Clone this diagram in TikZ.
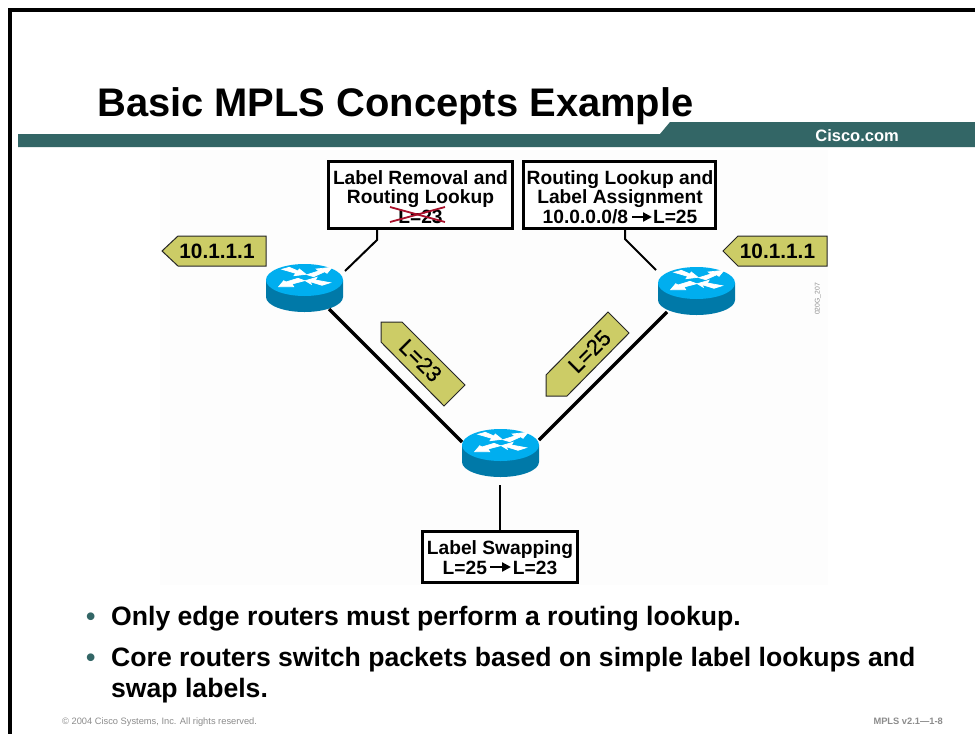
\documentclass[tikz,border=0pt]{standalone}
\usepackage{fontspec}
\setmainfont{Liberation Sans}
\usetikzlibrary{arrows.meta}
\definecolor{band}{HTML}{336666}
\definecolor{tagfill}{HTML}{CCCC66}
\definecolor{rtop}{HTML}{00AEEF}
\definecolor{rside}{HTML}{0079A8}
\definecolor{crossred}{HTML}{A8102A}
\definecolor{footgray}{HTML}{8C8C8C}
\definecolor{faint}{HTML}{FDFDFD}
\tikzset{
  x=1pt,y=-1pt,
  routerbox/.style={minimum width=77pt,minimum height=48pt,inner sep=0pt,outer sep=0pt,
    path picture={
      \begin{scope}[shift={(path picture bounding box.center)}]
        \fill[rside] (-38.5,-8) -- (38.5,-8) -- (38.5,9) arc[start angle=0,end angle=180,x radius=38.5,y radius=15] -- cycle;
        \fill[rtop] (0,-8) ellipse[x radius=38.5,y radius=16];
        \filldraw[white,line width=0.7pt] (-22.5,-18.7) -- (-15.2,-20.7) -- (-6.5,-17) -- (-5.2,-19) -- (1.5,-13.7) -- (-10.5,-12.3) -- (-8.8,-14.7) -- cycle;
        \filldraw[white,line width=0.7pt] (2.5,-13.3) -- (14.2,-17) -- (11.8,-19) -- (27.5,-20.7) -- (22.5,-14.7) -- (20.2,-16.3) -- (9.2,-11.3) -- cycle;
        \filldraw[white,line width=0.7pt] (-6.5,-9.7) -- (0,-7.3) -- (-12.5,-4) -- (-10.8,-1.3) -- (-25.8,-1.3) -- (-20.8,-7.3) -- (-18.5,-6) -- cycle;
        \filldraw[white,line width=0.7pt] (0.8,-7.3) -- (12.5,-10.7) -- (10.8,-8) -- (25.8,-5.3) -- (17.5,-2.7) -- (5.8,-6.3) -- (6.8,-3.7) -- cycle;
      \end{scope}
    }},
  infobox/.style={draw=black,line width=2.4pt,fill=white,inner sep=0pt},
  infotext/.style={inner sep=0pt,align=center,font=\bfseries\fontsize{19.2}{19.6}\selectfont},
  conn/.style={black,line width=2pt},
  link/.style={black,line width=3.4pt},
  flowarrow/.style={black,line width=2.2pt,-{Triangle[width=9pt,length=9pt]}},
  tagshape/.style={fill=tagfill,draw=black!85,line width=1pt,line join=miter},
  tagtext/.style={inner sep=0pt,font=\bfseries\fontsize{20.8}{20.8}\selectfont},
  labeltext/.style={inner sep=0pt,font=\fontsize{22}{22}\selectfont\addfontfeature{FakeBold=0.7}},
  bodytext/.style={anchor=base west,inner sep=0pt,font=\bfseries\fontsize{26.6}{26.6}\selectfont},
  bullet/.style={anchor=base west,inner sep=0pt,text=band,font=\bfseries\fontsize{26.6}{26.6}\selectfont},
  foot/.style={inner sep=0pt,text=footgray}
}
\begin{document}
\begin{tikzpicture}
\useasboundingbox (0,0) rectangle (975,734);
\fill[white] (0,0) rectangle (975,734);
\fill[faint] (160,150) rectangle (828,585);
% frame
\fill[black] (8,8) rectangle (12,734);
\fill[black] (8,8) rectangle (975,12);
% title band
\fill[band] (18,134) -- (660,134) -- (670,122) -- (975,122) -- (975,147) -- (18,147) -- cycle;
\node[inner sep=0pt,anchor=base east,text=white,font=\bfseries\fontsize{16.5}{16.5}\selectfont] (cisco) at (899,141) {Cisco.com};
\node[anchor=base west,inner sep=0pt,font=\bfseries\fontsize{39.9}{39.9}\selectfont] (title) at (97,116) {Basic MPLS Concepts Example};
% routers
\node[routerbox] (r1) at (304.5,288) {};
\node[routerbox] (r2) at (696.5,291) {};
\node[routerbox] (r3) at (500.5,453) {};
% boxes
\node[infobox,minimum width=184pt,minimum height=67pt] (b1) at (420.5,195) {};
\node[infobox,minimum width=192pt,minimum height=67pt] (b2) at (619.5,195) {};
\node[infobox,minimum width=155pt,minimum height=51pt] (b3) at (500,557) {};
\node[infotext] (t1) at (420.5,197) {Label Removal and\\Routing Lookup\\L=23};
\node[infotext] (t2) at (620,197) {Routing Lookup and\\Label Assignment\\10.0.0.0/8\hspace{25pt}L=25};
\node[infotext] (t3) at (500,557.5) {Label Swapping\\L=25\hspace{26pt}L=23};
% arrows inside the boxes
\coordinate (fa1) at (632,217);
\coordinate (fa2) at (652,217);
\coordinate (fb1) at (490,567);
\coordinate (fb2) at (511,567);
\draw[flowarrow] (fa1) -- (fa2);
\draw[flowarrow] (fb1) -- (fb2);
% cross-out
\draw[crossred,line width=1.8pt] (390,207) -- (445,222);
\draw[crossred,line width=1.8pt] (390,222) -- (445,207);
% connectors
\coordinate (c1) at (377,240);
\coordinate (c2) at (625,239);
\draw[conn] (b1.south -| c1) -- (c1) -- ([shift={(40.5,-17)}]r1.center);
\draw[conn] (b2.south -| c2) -- (c2) -- ([shift={(-40.5,-21)}]r2.center);
\draw[conn] ([shift={(-0.5,32)}]r3.center) -- (b3.north);
\draw[link] ([shift={(24.5,21)}]r1.center) -- ([shift={(-38.5,-11)}]r3.center);
\draw[link] ([shift={(-29.5,21)}]r2.center) -- ([shift={(38.5,-13)}]r3.center);
% address tags
\draw[tagshape] (162,251) -- (178,236) -- (266,236) -- (266,266) -- (178,266) -- cycle;
\node[tagtext] (a1) at (217,251) {10.1.1.1};
\draw[tagshape] (723,251) -- (738,236) -- (827,236) -- (827,266) -- (738,266) -- cycle;
\node[tagtext] (a2) at (777.5,251) {10.1.1.1};
% label tags
\draw[tagshape] (381,322) -- (402,322) -- (465,385) -- (444,406) -- (381,342) -- cycle;
\node[labeltext,rotate=-45] (l1) at (420.5,360.5) {L=23};
\draw[tagshape] (608,312) -- (629,333) -- (567,396) -- (546,396) -- (546,375) -- cycle;
\node[labeltext,rotate=45] (l2) at (589.5,351.5) {L=25};
% figure id
\node[foot,rotate=90,font=\fontsize{6.8}{6.8}\selectfont] (fig) at (818,299) {020G\_207};
% bullets
\node[bullet] (d1) at (86,625) {•};
\node[bodytext] (p1) at (111,625) {Only edge routers must perform a routing lookup.};
\node[bullet] (d2) at (86,666) {•};
\node[bodytext] (p2) at (111,666) {Core routers switch packets based on simple label lookups and};
\node[bodytext] (p3) at (111,697) {swap labels.};
% footer
\node[foot,anchor=base west,font=\fontsize{9.3}{9.3}\selectfont] (f1) at (62,724) {© 2004 Cisco Systems, Inc. All rights reserved.};
\node[foot,anchor=base east,font=\bfseries\fontsize{9.3}{9.3}\selectfont] (f2) at (943,724) {MPLS v2.1—1-8};
\end{tikzpicture}
\end{document}
